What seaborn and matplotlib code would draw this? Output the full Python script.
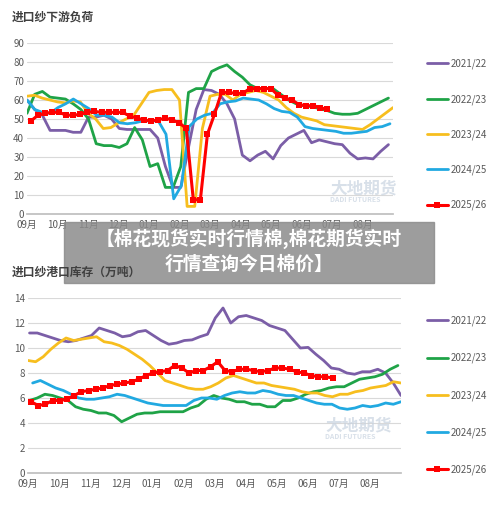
import numpy as np
import pandas as pd
import matplotlib
matplotlib.use("Agg")
import matplotlib.pyplot as plt
import seaborn as sns
from matplotlib.patches import Rectangle

sns.set_theme(style="white")
plt.rcParams['font.family'] = ['Noto Sans CJK SC', 'DejaVu Sans']

months = ["09月", "10月", "11月", "12月", "01月", "02月", "03月", "04月", "05月", "06月", "07月", "08月"]
seasons = ["2021/22", "2022/23", "2023/24", "2024/25", "2025/26"]
colors = ["#7B5EA7", "#1FA347", "#F7BE1E", "#21A9E1", "#FF0000"]

# 进口纱下游负荷 (weekly)
load_2122 = [60,55,52,44,44,44,43,43,51,51,52,50,45,44.5,44.5,44.5,44.5,40,25,14,14,35,55,65.5,65,63,58,50,31,28,31,33,29,36,40,42,44,37.5,39,38,37,36.5,32,29,29.5,29,33,36.5]
load_2223 = [53,63,64.5,61.5,61,60.5,58,55,50,37,36,36,35,37,45.5,39,25,26.5,14,14,25,64,66,66,75,77,78.5,75,72,68,66,66,66,63,60,58,57,56.5,55.5,54.5,53,52.5,52.5,53,55,57,59,61]
load_2324 = [62,62.5,61,60,59,58.5,59.5,59,53,50,45,45.5,48,50,52,58,64,65,65.5,65.5,60,4,4,45,62,63,63,60,63,64,65,64,62,60,56,53,51,50,49,47,46.5,46,45.5,45,44.5,47,50,53,56]
load_2425 = [60,55,53.5,53,56,58,60.5,58,55.5,52,52,51,48,47.5,48,49,49,49,42,8,15,46,50,52,53,58,59,59.5,61,60.5,60,58,55.5,54,53.5,51,46,45,44.5,44,43.5,42.5,42.5,43,43.5,45.5,46,47.5]
load_2526 = [49,52,53,53.5,53.5,52,52,52.5,53.5,54,53.5,53.5,53.5,53.5,51.5,50.5,49.5,49,49.5,50.5,49.5,48,45,7.5,7.5,42,52.5,64,64,63.5,63.5,66,66,66,66,62.5,61,60,57.5,57,57,56,55]
load_ends = [(0, 11.85), (0, 11.85), (0, 12.0), (0, 11.9), (0.13, 9.85)]

# 进口纱港口库存（万吨）
inv_2122 = [11.2,11.2,11.0,10.8,10.6,10.5,10.6,10.8,11.0,11.6,11.4,11.2,10.9,11.0,11.3,11.4,11.0,10.6,10.3,10.4,10.6,10.65,10.9,11.1,12.4,13.2,12.0,12.5,12.6,12.4,12.2,11.8,11.6,11.4,10.7,10.0,10.05,9.5,9.0,8.4,8.3,8.0,7.9,8.1,8.1,8.3,8.0,7.2,6.2]
inv_2223 = [5.8,6.0,6.3,6.2,6.0,5.8,5.3,5.1,5.0,4.8,4.8,4.6,4.1,4.4,4.7,4.8,4.8,4.9,4.9,4.9,4.9,5.2,5.4,5.9,6.2,6.0,5.9,5.7,5.7,5.5,5.5,5.3,5.3,5.8,5.8,6.0,6.3,6.5,6.6,6.8,6.9,6.9,7.2,7.5,7.6,7.7,7.9,8.3,8.6]
inv_2324 = [9.0,8.9,9.3,9.9,10.4,10.8,10.6,10.7,10.8,10.9,10.5,10.4,10.2,9.9,9.5,9.1,8.6,8.0,7.4,7.2,7.0,6.8,6.7,6.7,6.9,7.2,7.6,7.8,7.6,7.4,7.2,7.2,7.0,6.9,6.8,6.7,6.5,6.4,6.4,6.2,6.1,6.3,6.3,6.5,6.6,6.8,6.9,7.0,7.3,7.2]
inv_2425 = [7.2,7.4,7.1,6.8,6.6,6.3,6.0,5.9,5.9,6.0,6.1,6.3,6.2,6.0,5.8,5.6,5.5,5.4,5.4,5.4,5.4,5.8,6.0,6.0,5.9,6.2,6.4,6.5,6.4,6.4,6.6,6.5,6.3,6.2,6.2,6.0,5.8,5.6,5.5,5.5,5.2,5.1,5.2,5.4,5.3,5.4,5.6,5.5,5.7]
inv_2526 = [5.7,5.4,5.5,5.8,5.8,5.9,6.2,6.5,6.6,6.7,6.8,7.0,7.1,7.2,7.3,7.5,7.8,8.0,8.1,8.2,8.6,8.4,8.0,8.2,8.2,8.5,8.9,8.2,8.1,8.3,8.3,8.2,8.1,8.2,8.4,8.4,8.3,8.1,8.0,7.8,7.7,7.7,7.6]
inv_ends = [(0.05, 12.0), (0.05, 11.9), (0.0, 12.0), (0.15, 12.0), (0.1, 9.8)]

fig = plt.figure(figsize=(5, 5.05), dpi=100)
ax1 = fig.add_axes([27/500, 1-214/505, (393-27)/500, (214-43)/505])
ax2 = fig.add_axes([28/500, 1-473/505, (401-28)/500, (473-298)/505])

def draw(ax, series, ends, ymax, ystep, leg_y, spacing):
    for name, vals, (a, b), c in zip(seasons, series, ends, colors):
        df = pd.DataFrame({"x": np.linspace(a, b, len(vals)), "y": vals})
        if name == "2025/26":
            sns.lineplot(data=df, x="x", y="y", ax=ax, color=c, lw=2.2, marker="s",
                         markersize=4.5, markeredgewidth=0, label=name, zorder=5)
        else:
            sns.lineplot(data=df, x="x", y="y", ax=ax, color=c, lw=2.0, label=name)
    ax.set_xlim(0, 12)
    ax.set_ylim(0, ymax)
    ax.set_yticks(np.arange(0, ymax + 0.01, ystep))
    ax.set_xticks(range(12))
    ax.set_xticklabels(months)
    ax.set_xlabel("")
    ax.set_ylabel("")
    ax.grid(axis="y", color="#d9d9d9", lw=0.8)
    for s in ["top", "right", "left"]:
        ax.spines[s].set_visible(False)
    ax.spines["bottom"].set_color("#bfbfbf")
    ax.tick_params(axis="both", labelsize=7, colors="#595959", length=0, pad=2)
    ax.tick_params(axis="x", length=3, color="#bfbfbf", direction="out", pad=1)
    ax.legend(loc="upper left", bbox_to_anchor=(418/500, leg_y), bbox_transform=fig.transFigure,
              frameon=False, fontsize=7, labelspacing=spacing, handlelength=2.2,
              handletextpad=0.3, labelcolor="#595959")

draw(ax1, [load_2122, load_2223, load_2324, load_2425, load_2526], load_ends, 90, 10, 1-50/505, 2.55)
draw(ax2, [inv_2122, inv_2223, inv_2324, inv_2425, inv_2526], inv_ends, 14, 2, 1-307/505, 2.75)

fig.text(12/500, 1-17/505, "进口纱下游负荷", fontsize=8.5, fontweight="bold", color="#404040", va="center")
fig.text(12/500, 1-272/505, "进口纱港口库存（万吨）", fontsize=8.5, fontweight="bold", color="#404040",
         va="center", zorder=12)

for (x, y) in [(330/500, 1-193/505), (325/500, 1-430/505)]:
    fig.text(x, y, "大地期货", fontsize=12, fontweight="bold", color="#c8d3e0", alpha=0.7)
    fig.text(x, y - 0.018, "DADI FUTURES", fontsize=5, fontweight="bold", color="#c8d3e0", alpha=0.7)

fig.patches.append(Rectangle((64/500, 1-283/505), (434-64)/500, (283-222)/505,
                             transform=fig.transFigure, color="#8c8c8c", alpha=0.85, zorder=10))
fig.text(249/500, 1-239/505, "【棉花现货实时行情棉,棉花期货实时", fontsize=13.5, fontweight="bold",
         color="white", ha="center", va="center", zorder=11)
fig.text(249/500, 1-264/505, "行情查询今日棉价】", fontsize=13.5, fontweight="bold",
         color="white", ha="center", va="center", zorder=11)

fig.savefig("out.png", dpi=100)
